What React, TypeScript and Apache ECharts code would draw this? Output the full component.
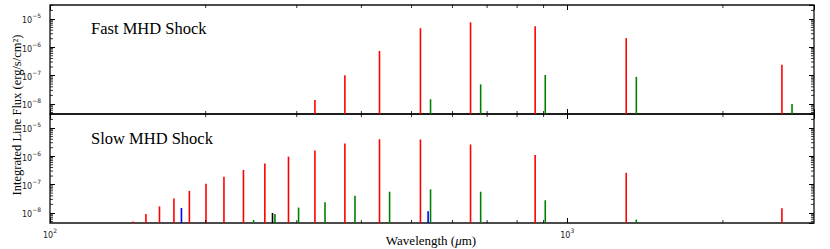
import React, { useEffect, useRef } from "react";
import * as echarts from "echarts";

// Axis ranges
const X_MIN = 100;
const X_MAX = 3000;
const Y_MIN = 4.4e-9;
const Y_MAX = 3.1e-5;

// Minor tick positions (log axes)
const xMinorTicks = [200, 300, 400, 500, 600, 700, 800, 900, 2000];
const minorMantissas = [2, 3, 4, 5, 6, 7, 8, 9];
const minorDecades = [-9, -8, -7, -6, -5];

// Panel titles
const panelTitles = ["Fast MHD Shock", "Slow MHD Shock"];

// Fast MHD shock — line wavelengths (μm) and integrated fluxes (erg/s/cm^2)
const fastCOWave = [325.23, 371.65, 433.56, 520.23, 650.25, 866.96, 1300.4, 2600.76];
const fastCOFlux = [1.38e-8, 1.03e-7, 7.4e-7, 4.7e-6, 7.6e-6, 5.5e-6, 2.1e-6, 2.4e-7];
const fast13COWave = [544.16, 680.17, 906.85, 1360.23, 2720.41];
const fast13COFlux = [1.46e-8, 4.9e-8, 1.05e-7, 9.0e-8, 1.0e-8];

// Slow MHD shock
const slowCOWave = [
  144.78, 153.27, 162.81, 173.63, 185.99, 200.27, 216.93, 236.61, 260.24, 289.12,
  325.23, 371.65, 433.56, 520.23, 650.25, 866.96, 1300.4, 2600.76,
];
const slowCOFlux = [
  5.0e-9, 9.2e-9, 1.7e-8, 3.2e-8, 6.0e-8, 1.08e-7, 1.9e-7, 3.3e-7, 5.5e-7, 9.7e-7,
  1.6e-6, 2.8e-6, 4.0e-6, 3.9e-6, 2.6e-6, 1.1e-6, 2.6e-7, 1.45e-8,
];
const slow13COWave = [247.48, 272.2, 302.41, 340.18, 388.74, 453.5, 544.16, 680.17, 906.85, 1360.23];
const slow13COFlux = [5.6e-9, 9.2e-9, 1.54e-8, 2.4e-8, 4.0e-8, 5.6e-8, 6.8e-8, 5.6e-8, 2.8e-8, 5.8e-9];
const slowOH2OWave = [179.53, 538.29];
const slowOH2OFlux = [1.5e-8, 1.15e-8];
const slowPH2OWave = [269.27];
const slowPH2OFlux = [1.0e-8];

const RED = "#ff0000";
const GREEN = "#008000";
const BLUE = "#0000ff";
const BLACK = "#000000";

const GRID_LEFT = 50;
const GRID_WIDTH = 764;
const GRID_TOPS = [5, 114];
const GRID_HEIGHT = 109;

function supLabel(v: number) {
  const e = Math.round(Math.log10(v));
  const s = e < 0 ? "\u2212" + Math.abs(e) : String(e);
  return `{b|10}{s|${s}}`;
}

const richLabel = {
  b: { fontFamily: "DejaVu Sans", fontSize: 8, color: "#222", lineHeight: 12, verticalAlign: "bottom" },
  s: { fontFamily: "DejaVu Sans", fontSize: 6, color: "#222", lineHeight: 7, verticalAlign: "top" },
};

function stemSeries(g: number, name: string, waves: number[], fluxes: number[], color: string) {
  return {
    type: "custom",
    name,
    xAxisIndex: g * 2,
    yAxisIndex: g * 2,
    silent: true,
    clip: true,
    data: waves.map((w, i) => [w, fluxes[i]]),
    renderItem: (_params: any, api: any) => {
      const x = api.value(0);
      const y = api.value(1);
      const p1 = api.coord([x, Y_MIN]);
      const p2 = api.coord([x, y]);
      return {
        type: "line",
        shape: { x1: p1[0], y1: p1[1], x2: p2[0], y2: p2[1] },
        style: { stroke: color, lineWidth: 1.6 },
      };
    },
  };
}

function minorTickSeries(g: number) {
  const yMinor: number[] = [];
  minorDecades.forEach((d) =>
    minorMantissas.forEach((m) => {
      const v = m * Math.pow(10, d);
      if (v > Y_MIN && v < Y_MAX) yMinor.push(v);
    })
  );
  return {
    type: "custom",
    xAxisIndex: g * 2,
    yAxisIndex: g * 2,
    silent: true,
    clip: false,
    z: 10,
    data: [[X_MIN, Y_MIN]],
    renderItem: (_params: any, api: any) => {
      const children: any[] = [];
      const st = { stroke: "#000", lineWidth: 0.8 };
      const L = 3;
      xMinorTicks.forEach((xv) => {
        const pb = api.coord([xv, Y_MIN]);
        const pt = api.coord([xv, Y_MAX]);
        children.push({ type: "line", shape: { x1: pb[0], y1: pb[1], x2: pb[0], y2: pb[1] - L }, style: st });
        children.push({ type: "line", shape: { x1: pt[0], y1: pt[1], x2: pt[0], y2: pt[1] + L }, style: st });
      });
      yMinor.forEach((yv) => {
        const pl = api.coord([X_MIN, yv]);
        const pr = api.coord([X_MAX, yv]);
        children.push({ type: "line", shape: { x1: pl[0], y1: pl[1], x2: pl[0] + L, y2: pl[1] }, style: st });
        children.push({ type: "line", shape: { x1: pr[0], y1: pr[1], x2: pr[0] - L, y2: pr[1] }, style: st });
      });
      return { type: "group", children };
    },
  };
}

export default function App() {
  const ref = useRef<HTMLDivElement>(null);
  useEffect(() => {
    if (!ref.current) return;
    const chart = echarts.init(ref.current, undefined, { renderer: "svg" });

    const grids = GRID_TOPS.map((t) => ({
      left: GRID_LEFT,
      top: t,
      width: GRID_WIDTH,
      height: GRID_HEIGHT,
      show: true,
      borderColor: "#111",
      borderWidth: 1.3,
      backgroundColor: "transparent",
    }));

    const tickStyle = { show: true, inside: true, length: 5, lineStyle: { color: "#000", width: 1 } };

    const xAxes: any[] = [];
    const yAxes: any[] = [];
    [0, 1].forEach((g) => {
      xAxes.push({
        type: "log",
        logBase: 10,
        gridIndex: g,
        min: X_MIN,
        max: X_MAX,
        position: "bottom",
        axisLine: { show: false },
        axisTick: tickStyle,
        splitLine: { show: false },
        axisLabel: {
          show: g === 1,
          margin: 4,
          showMinLabel: true,
          showMaxLabel: false,
          formatter: supLabel,
          rich: richLabel,
        },
      });
      xAxes.push({
        type: "log",
        logBase: 10,
        gridIndex: g,
        min: X_MIN,
        max: X_MAX,
        position: "top",
        axisLine: { show: false },
        axisTick: tickStyle,
        splitLine: { show: false },
        axisLabel: { show: false },
      });
      yAxes.push({
        type: "log",
        logBase: 10,
        gridIndex: g,
        min: Y_MIN,
        max: Y_MAX,
        position: "left",
        axisLine: { show: false },
        axisTick: tickStyle,
        splitLine: { show: false },
        axisLabel: {
          show: true,
          margin: 9,
          showMinLabel: false,
          showMaxLabel: false,
          formatter: supLabel,
          rich: richLabel,
        },
      });
      yAxes.push({
        type: "log",
        logBase: 10,
        gridIndex: g,
        min: Y_MIN,
        max: Y_MAX,
        position: "right",
        axisLine: { show: false },
        axisTick: tickStyle,
        splitLine: { show: false },
        axisLabel: { show: false },
      });
    });

    const series: any[] = [
      stemSeries(0, "CO", fastCOWave, fastCOFlux, RED),
      stemSeries(0, "13CO", fast13COWave, fast13COFlux, GREEN),
      stemSeries(1, "CO", slowCOWave, slowCOFlux, RED),
      stemSeries(1, "o-H2O", slowOH2OWave, slowOH2OFlux, BLUE),
      stemSeries(1, "p-H2O", slowPH2OWave, slowPH2OFlux, BLACK),
      stemSeries(1, "13CO", slow13COWave, slow13COFlux, GREEN),
      minorTickSeries(0),
      minorTickSeries(1),
    ];

    const serif = "'Liberation Serif', 'Times New Roman', serif";

    chart.setOption({
      animation: false,
      backgroundColor: "#ffffff",
      grid: grids,
      xAxis: xAxes,
      yAxis: yAxes,
      series,
      graphic: [
        {
          type: "text",
          x: 91,
          y: 28,
          style: { text: panelTitles[0], font: `16.5px ${serif}`, fill: "#000", verticalAlign: "middle" },
        },
        {
          type: "text",
          x: 91,
          y: 138,
          style: { text: panelTitles[1], font: `16.5px ${serif}`, fill: "#000", verticalAlign: "middle" },
        },
        {
          type: "text",
          x: 431,
          y: 240,
          style: {
            text: "Wavelength ({i|μ}m)",
            font: `13px ${serif}`,
            fill: "#000",
            align: "center",
            verticalAlign: "middle",
            rich: { i: { fontStyle: "italic", fontFamily: "Liberation Serif", fontSize: 13, fill: "#000" } },
          },
        },
        {
          type: "text",
          x: 17,
          y: 115,
          rotation: Math.PI / 2,
          style: {
            text: "Integrated Line Flux (erg/s/cm²)",
            font: `12.5px ${serif}`,
            fill: "#000",
            align: "center",
            verticalAlign: "middle",
          },
        },
      ],
    });
    return () => chart.dispose();
  }, []);
  return (
    <div
      ref={ref}
      style={{ position: "fixed", left: 0, top: 0, width: 830, height: 249, background: "#fff" }}
    />
  );
}
